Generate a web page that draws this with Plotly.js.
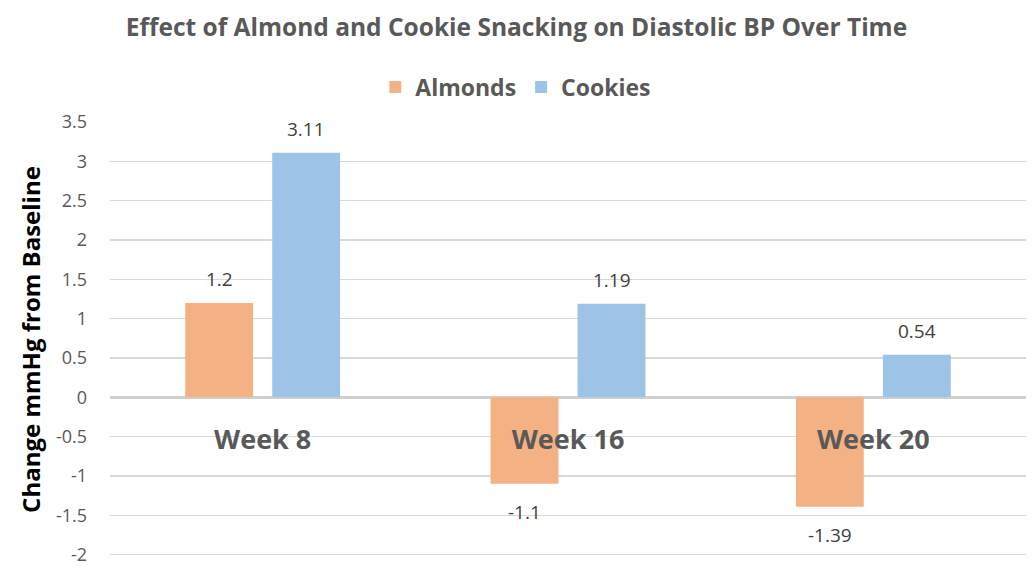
<!DOCTYPE html>
<html>
<head>
<meta charset="utf-8">
<script src="https://cdn.plot.ly/plotly-3.0.1.min.js"></script>
<style>html,body{margin:0;padding:0;background:#fff;}#chart{width:1033px;height:566px;}</style>
</head>
<body>
<div id="chart"></div>
<script>
const categories = ["Week 8", "Week 16", "Week 20"];
const almonds = [1.2, -1.1, -1.39];
const cookies = [3.11, 1.19, 0.54];
const yTicks = [3.5, 3, 2.5, 2, 1.5, 1, 0.5, 0, -0.5, -1, -1.5, -2];
const yTickText = ["3.5", "3", "2.5", "2", "1.5", "1", "0.5", "0", "-0.5", "-1", "-1.5", "-2"];

const FONT = "'Open Sans', Lato, sans-serif";
const yRange = [-2.03, 3.5];
const W = 1033, H = 566;
const M = {l: 110, r: 7, t: 122, b: 9};
const BARGAP = 0.43, GROUPGAP = 0.22;

const traces = [
  {type: "bar", name: "Almonds", x: categories, y: almonds,
   marker: {color: "#F4B183"}, hoverinfo: "skip"},
  {type: "bar", name: "Cookies", x: categories, y: cookies,
   marker: {color: "#9DC3E6"}, hoverinfo: "skip"}
];

// data labels placed at each bar's value, offset to the bar's slot within its group
const plotW = W - M.l - M.r;
const plotH = H - M.t - M.b;
const slot = plotW / categories.length * (1 - BARGAP) / 2;
const annotations = [];
[[almonds, -slot / 2], [cookies, slot / 2]].forEach(([vals, dx]) => {
  vals.forEach((v, i) => {
    annotations.push({x: categories[i], y: v, xref: "x", yref: "y", text: String(v),
      showarrow: false, xshift: dx, yshift: v >= 0 ? 24 : -28, yanchor: "middle",
      font: {family: FONT, size: 19, color: "#404040"}});
  });
});

const layout = {
  width: W, height: H,
  margin: M,
  paper_bgcolor: "#fff", plot_bgcolor: "#fff",
  font: {family: FONT, color: "#595959"},
  title: {text: "<b>Effect of Almond and Cookie Snacking on Diastolic BP Over Time</b>",
          font: {family: FONT, size: 24.5, color: "#595959"},
          x: 0.5, xref: "container", xanchor: "center", y: 1 - 27 / H, yref: "container", yanchor: "middle"},
  showlegend: true,
  legend: {orientation: "h", x: 0.443, xref: "paper", xanchor: "center", y: 1 + (M.t - 87) / plotH, yref: "paper", yanchor: "middle",
           font: {family: FONT, size: 23, color: "#595959", weight: "bold"}, traceorder: "normal"},
  barmode: "group", bargap: BARGAP, bargroupgap: GROUPGAP,
  annotations: annotations,
  xaxis: {type: "category", anchor: "free", position: (0 - yRange[0]) / (yRange[1] - yRange[0]),
          showline: false, ticks: "", showgrid: false, zeroline: false,
          ticklabelstandoff: 24, automargin: false, tickangle: 0,
          tickfont: {family: FONT, size: 27, color: "#595959", weight: "bold"}},
  yaxis: {range: yRange, tickmode: "array", tickvals: yTicks, ticktext: yTickText,
          showgrid: true, gridcolor: "#D9D9D9", gridwidth: 1.5,
          zeroline: true, zerolinecolor: "#D0D0D0", zerolinewidth: 2.5,
          showline: false, ticks: "", ticklabelstandoff: 22, automargin: false,
          ticklabeloverflow: "allow",
          tickfont: {family: FONT, size: 18, color: "#595959"},
          title: {text: "<b>Change mmHg from Baseline</b>", standoff: 8,
                  font: {family: FONT, size: 24, color: "#000"}}}
};

Plotly.newPlot("chart", traces, layout, {displayModeBar: false, staticPlot: true});
</script>
</body>
</html>
